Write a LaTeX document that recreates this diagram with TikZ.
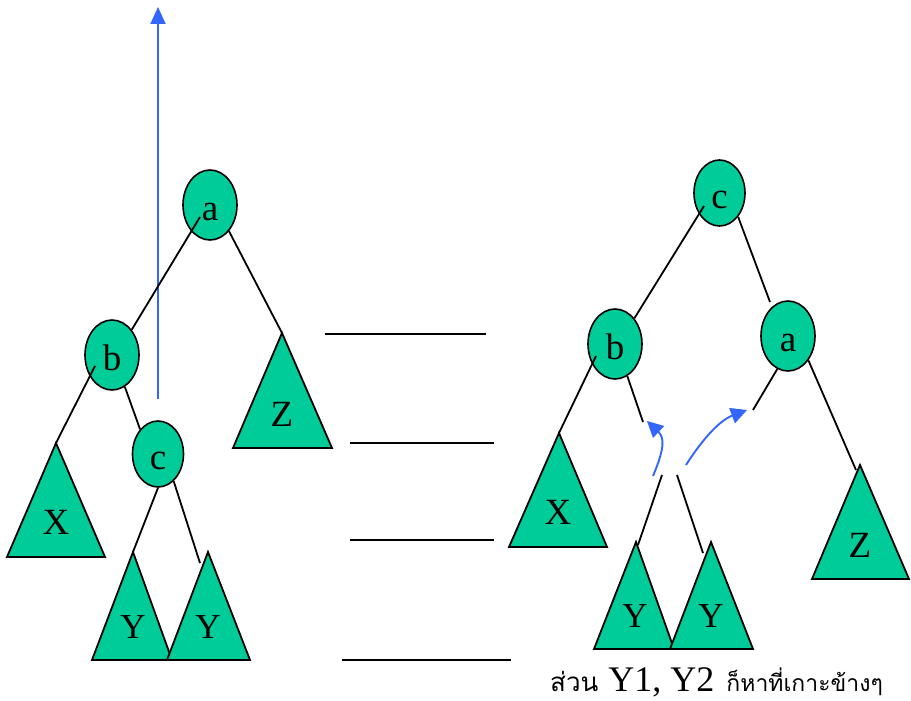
\documentclass[tikz,border=0pt]{standalone}
\usepackage{fontspec}
\setmainfont{Liberation Serif}
\newfontfamily\thaifont[Script=Thai]{Loma}
\usetikzlibrary{shapes.geometric,arrows.meta,calc}
\definecolor{nodegreen}{RGB}{0,204,153}
\definecolor{arrowblue}{RGB}{51,102,255}
\tikzset{
  ell/.style={ellipse, draw=black, line width=1.6pt, fill=nodegreen,
    minimum width=54pt, minimum height=70pt, inner sep=0pt,
    font=\fontsize{37}{40}\selectfont, text height=30pt, text depth=0pt},
  smallell/.style={ell, minimum width=51pt, minimum height=66pt},
  tri/.style={draw=black, line width=1.8pt, fill=nodegreen, line join=miter},
  lbl/.style={inner sep=0pt, font=\fontsize{37}{40}\selectfont},
  ylbl/.style={inner sep=0pt, font=\fontsize{35}{38}\selectfont},
  edge/.style={draw=black, line width=1.8pt},
  hline/.style={draw=black, line width=2pt},
  bluearrow/.style={draw=arrowblue, line width=1.9pt, -{Triangle[length=17pt,width=15pt]}},
  bluecurve/.style={draw=arrowblue, line width=1.9pt, -{Triangle[length=16pt,width=16pt]}}
}
\begin{document}
\begin{tikzpicture}[x=1pt,y=-1pt]
\useasboundingbox (0,0) rectangle (911,701);

% ---------- left tree ----------
% blue vertical arrow
\coordinate (bs) at (158,399);
\coordinate (bt) at (158,7);
\draw[bluearrow] (bs) -- (bt);

\node[ell] (La) at (210,205) {a};
\node[ell] (Lb) at (112,355) {b};
\node[smallell] (Lc) at (158,454) {c};

% triangles
\coordinate (LZt) at (282,333);
\draw[tri] (LZt) -- (233,448) -- (332,448) -- cycle;
\node[lbl] (LZ) at (282,414) {Z};

\coordinate (LXt) at (56,443);
\draw[tri] (LXt) -- (7,557) -- (105,557) -- cycle;
\node[lbl] (LX) at (56,522) {X};

\coordinate (LY1t) at (133,552);
\draw[tri] (LY1t) -- (92,660) -- (172,660) -- cycle;
\node[ylbl] (LY1) at (133,627) {Y};

\coordinate (LY2t) at (208,552);
\draw[tri] (LY2t) -- (167,660) -- (250,660) -- cycle;
\node[ylbl] (LY2) at (208,627) {Y};

% edges
\draw[edge] ([shift={(-10,12)}]La.center) -- (Lb.52);
\draw[edge] (La.-54) -- (LZt);
\draw[edge] ([shift={(-17,11)}]Lb.center) -- (LXt);
\draw[edge] (Lb.-68) -- (Lc.126);
\draw[edge] (Lc.south) -- (LY1t);
\coordinate (LY2e) at (200,563);
\draw[edge] (Lc.-60) -- (LY2e);

% ---------- horizontal lines ----------
\coordinate (h1a) at (325,334); \coordinate (h1b) at (486,334);
\coordinate (h2a) at (350,443); \coordinate (h2b) at (494,443);
\coordinate (h3a) at (350,540); \coordinate (h3b) at (494,540);
\coordinate (h4a) at (342,660); \coordinate (h4b) at (511,660);
\draw[hline] (h1a) -- (h1b);
\draw[hline] (h2a) -- (h2b);
\draw[hline] (h3a) -- (h3b);
\draw[hline] (h4a) -- (h4b);

% ---------- right tree ----------
\node[smallell] (Rc) at (719.5,193) {c};
\node[ell] (Rb) at (615,344) {b};
\node[ell] (Ra) at (788,336) {a};

\coordinate (RXt) at (559,433);
\draw[tri] (RXt) -- (509,547) -- (607,547) -- cycle;
\node[lbl] (RX) at (558,512) {X};

\coordinate (RZt) at (860,465);
\draw[tri] (RZt) -- (812,579) -- (909,579) -- cycle;
\node[lbl] (RZ) at (860,545) {Z};

\coordinate (RY1t) at (636,542);
\draw[tri] (RY1t) -- (594,649) -- (674,649) -- cycle;
\node[ylbl] (RY1) at (635,616) {Y};

\coordinate (RY2t) at (711,542);
\draw[tri] (RY2t) -- (670,649) -- (753,649) -- cycle;
\node[ylbl] (RY2) at (711,616) {Y};

% edges
\draw[edge] ([shift={(-15.5,13)}]Rc.center) -- (Rb.53);
\coordinate (Rce) at (770,302);
\draw[edge] (Rc.-52) -- (Rce);
\coordinate (Rae) at (753,410);
\draw[edge] (Ra.252) -- (Rae);
\coordinate (RZe) at (856,470);
\draw[edge] (Ra.-50) -- (RZe);
\draw[edge] ([shift={(-19,12)}]Rb.center) -- (RXt);
\coordinate (Rbe) at (643,422);
\draw[edge] (Rb.-69) -- (Rbe);
\coordinate (g1a) at (662,475); \coordinate (g1b) at (638,545);
\coordinate (g2a) at (677,475); \coordinate (g2b) at (703,553);
\draw[edge] (g1a) -- (g1b);
\draw[edge] (g2a) -- (g2b);

% blue curved arrows
\coordinate (c1s) at (653,476); \coordinate (c1t) at (647,421);
\draw[bluecurve] (c1s) .. controls (664,450) and (665,438) .. (c1t);
\coordinate (c2s) at (686,465); \coordinate (c2t) at (747,410);
\draw[bluecurve] (c2s) .. controls (700,443) and (718,421) .. (c2t);

% ---------- caption ----------
\node[anchor=base west, inner sep=0pt] (note) at (550,691)
  {{\thaifont\fontsize{26}{28}\selectfont ส่วน}\hspace{10pt}{\fontsize{36}{38}\selectfont Y1, Y2}\hspace{12pt}{\thaifont\fontsize{23}{26}\selectfont ก็หาที่เกาะข้างๆ}};
\end{tikzpicture}
\end{document}
